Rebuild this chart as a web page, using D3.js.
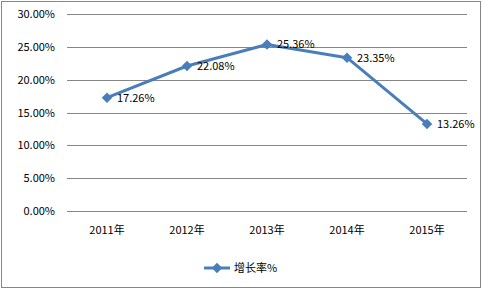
<!DOCTYPE html>
<html><head><meta charset="utf-8">
<script src="https://cdn.jsdelivr.net/npm/d3@7"></script>
<style>body{margin:0;background:#fff}svg{display:block}</style>
</head><body><svg id="c" width="483" height="290"></svg>
<script>
const categories = ["2011年","2012年","2013年","2014年","2015年"];
const values = [17.26, 22.08, 25.36, 23.35, 13.26];
const yTicks = [0, 5, 10, 15, 20, 25, 30];
const seriesName = "增长率%";

const svg = d3.select("#c");
const font = "'Noto Sans CJK SC', 'DejaVu Sans', sans-serif";
svg.append("rect").attr("x",1.5).attr("y",1.5).attr("width",479).attr("height",286)
  .attr("fill","#fff").attr("stroke","#868686").attr("stroke-width",1);

const x = d3.scaleBand().domain(categories).range([67,467]);
const y = d3.scaleLinear().domain([0,30]).range([211,14]);

const yAxis = d3.axisLeft(y).tickValues(yTicks).tickSize(-400).tickFormat(d => d.toFixed(2)+"%");
const gy = svg.append("g").attr("transform","translate(67,0)").call(yAxis);
gy.select(".domain").remove();
gy.selectAll(".tick line").attr("stroke","#868686").attr("shape-rendering","crispEdges");
gy.selectAll(".tick text").attr("x",-12).attr("font-size",11).attr("font-family",font).attr("fill","#000");

const xAxis = d3.axisBottom(x).tickSize(0).tickPadding(15);
const gx = svg.append("g").attr("transform","translate(0,211)").call(xAxis);
gx.select(".domain").remove();
gx.selectAll(".tick text").attr("font-size",11).attr("font-family",font).attr("fill","#000");

const cx = d => x(d) + x.bandwidth()/2;
const line = d3.line().x((d,i)=>cx(categories[i])).y(d=>y(d));
svg.append("path").datum(values).attr("d",line).attr("fill","none")
  .attr("stroke","#4A7EBB").attr("stroke-width",3).attr("stroke-linejoin","round");

const diamond = d3.symbol().type(d3.symbolDiamond2).size(70);
svg.selectAll(".pt").data(values).join("path")
  .attr("transform",(d,i)=>`translate(${cx(categories[i])},${y(d)})`)
  .attr("d",diamond).attr("fill","#4A7EBB");

svg.selectAll(".lbl").data(values).join("text")
  .attr("x",(d,i)=>cx(categories[i])+10).attr("y",d=>y(d)+4)
  .attr("font-size",11).attr("font-family",font).attr("fill","#000")
  .text(d=>d.toFixed(2)+"%");

// legend
const ly = 268;
svg.append("line").attr("x1",204).attr("x2",230).attr("y1",ly).attr("y2",ly)
  .attr("stroke","#4A7EBB").attr("stroke-width",3);
svg.append("path").attr("transform",`translate(217,${ly})`).attr("d",diamond).attr("fill","#4A7EBB");
svg.append("text").attr("x",234).attr("y",ly+4).attr("font-size",11).attr("font-family",font)
  .attr("fill","#000").text(seriesName);
</script></body></html>
